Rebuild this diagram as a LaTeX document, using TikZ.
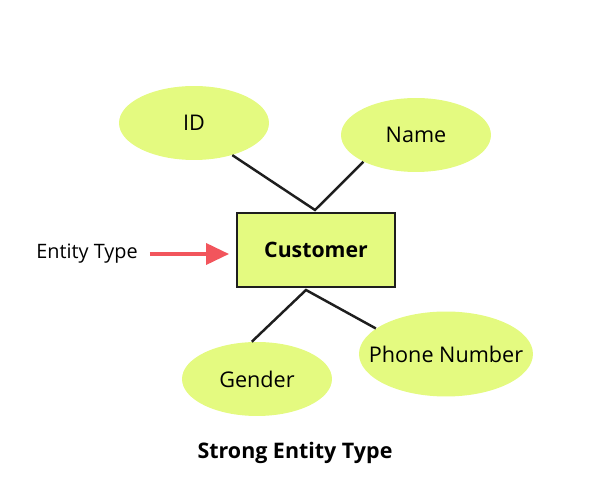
\documentclass[tikz,border=0pt]{standalone}
\usepackage{fontspec}
\setmainfont{Open Sans}
\usepackage{xcolor}
\usetikzlibrary{arrows.meta,positioning,calc,shapes.geometric}
\definecolor{ink}{HTML}{1E1E1E}
\definecolor{lime}{HTML}{E4FA80}
\definecolor{coral}{HTML}{F2555C}
\begin{document}
\begin{tikzpicture}[x=0.02cm,y=-0.02cm]
    \tikzset{
      attr/.style={ellipse,fill=lime,draw=none,minimum width=3.0cm,minimum height=1.48cm,inner sep=0pt,inner xsep=-0.4cm,font=\fontsize{12.3}{14}\selectfont},
      entity/.style={rectangle,fill=lime,draw=ink,line width=1.2pt,minimum width=3.15cm,minimum height=1.47cm,font=\fontsize{12.1}{14}\selectfont\bfseries},
      link/.style={draw=ink,line width=1.4pt},
      pointer/.style={-{Triangle[length=13pt,width=12pt]},draw=coral,line width=1.8pt}
    }
    \useasboundingbox (0,0) rectangle (600,500);
    \node[entity] (cust) at (316,250) {Customer};
    \node[attr] (id) at (194,123) {ID};
    \node[attr] (name) at (416,135) {Name};
    \node[attr] (gender) at (257,379) {Gender};
    \node[attr,minimum width=3.48cm,minimum height=1.7cm] (phone) at (446,354) {Phone Number};
    \node[font=\fontsize{11.3}{13}\selectfont] (label) at (87,254) {Entity Type};
    \node[font=\fontsize{12.2}{14}\selectfont\bfseries] (caption) at (295,453) {Strong Entity Type};
    \coordinate (up) at (315,210);
    \coordinate (down) at (306,290);
    \coordinate (tip) at (229,254);
    \draw[link] (id.320) -- (up) -- (name.207);
    \draw[link] (gender.98) -- (down) -- (phone.160);
    \draw[pointer] (label.east) ++(6,0) -- (tip);
  \end{tikzpicture}
\end{document}
